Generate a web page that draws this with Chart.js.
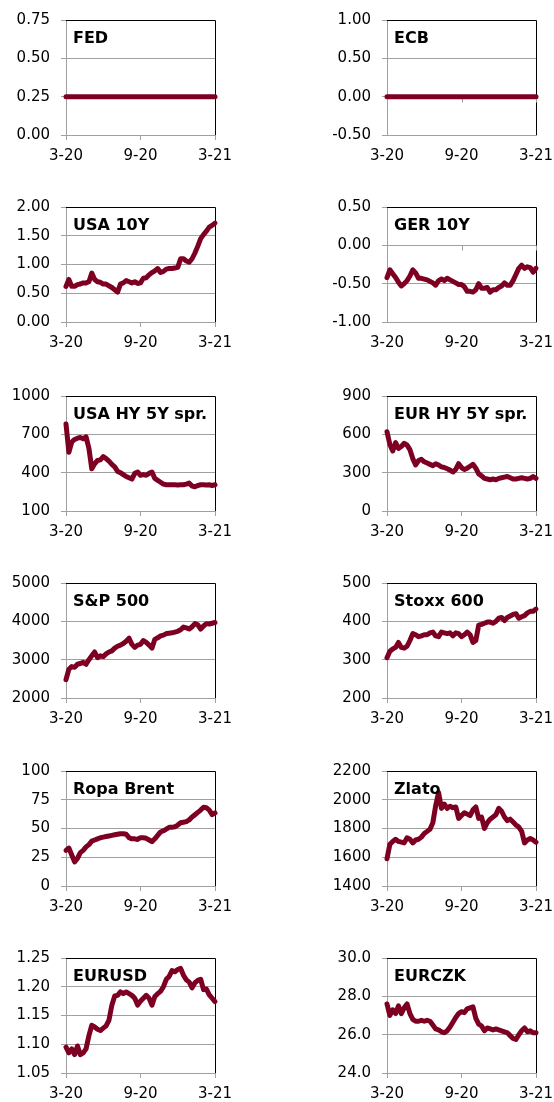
<!DOCTYPE html>
<html>
<head>
<meta charset="utf-8">
<script src="https://cdn.jsdelivr.net/npm/chart.js@4.4.0/dist/chart.umd.min.js"></script>
<style>
body { margin: 0; background: #fff; width: 554px; height: 1102px; overflow: hidden; position: relative; }
canvas { position: absolute; }
</style>
</head>
<body>
<script>
// x axis: weeks from 3-20 to 3-21
const tickWeeks = [0, 26, 52];
const tickLabels = ['3-20', '9-20', '3-21'];

const fed = [0.25, 0.25];
const ecb = [0.00, 0.00];
const usa10y = [0.62, 0.74, 0.62, 0.62, 0.65, 0.66, 0.68, 0.68, 0.70, 0.85, 0.74, 0.70, 0.69, 0.66, 0.66, 0.63, 0.60, 0.56, 0.52, 0.66,
    0.68, 0.72, 0.70, 0.68, 0.70, 0.67, 0.68, 0.76, 0.77, 0.82, 0.86, 0.89, 0.93, 0.86, 0.88, 0.92, 0.93, 0.93, 0.94, 0.95,
    1.10, 1.10, 1.06, 1.04, 1.10, 1.20, 1.32, 1.45, 1.52, 1.58, 1.65, 1.68, 1.72];
const ger10y = [-0.42, -0.32, -0.37, -0.42, -0.48, -0.53, -0.50, -0.46, -0.40, -0.32, -0.36, -0.43, -0.43, -0.44, -0.45, -0.47, -0.49, -0.52, -0.46, -0.44,
    -0.46, -0.43, -0.45, -0.47, -0.49, -0.51, -0.51, -0.54, -0.60, -0.60, -0.61, -0.58, -0.50, -0.56, -0.56, -0.55, -0.61, -0.58, -0.58, -0.55,
    -0.53, -0.49, -0.52, -0.52, -0.46, -0.38, -0.30, -0.26, -0.30, -0.28, -0.29, -0.35, -0.30];
const usaHy = [780, 560, 640, 660, 670, 675, 665, 680, 590, 430, 470, 495, 500, 525, 510, 490, 465, 445, 410, 400,
    385, 370, 360, 350, 395, 405, 380, 385, 380, 395, 405, 355, 340, 325, 310, 305, 305, 305, 305, 303,
    305, 305, 310, 318, 295, 290, 300, 305, 305, 303, 305, 300, 305];
const eurHy = [620, 520, 470, 535, 490, 505, 530, 515, 480, 410, 360, 395, 405, 385, 375, 365, 355, 370, 360, 345,
    340, 330, 320, 305, 325, 370, 340, 325, 335, 350, 365, 335, 290, 275, 255, 250, 245, 250, 245, 255,
    260, 265, 270, 260, 250, 250, 255, 260, 255, 250, 255, 270, 255];
const sp500 = [2480, 2750, 2820, 2800, 2880, 2900, 2930, 2880, 3000, 3100, 3200, 3050, 3100, 3080, 3150, 3200, 3230, 3300, 3350, 3380,
    3420, 3480, 3560, 3400, 3320, 3380, 3400, 3500, 3450, 3380, 3300, 3530, 3570, 3620, 3640, 3680, 3690, 3700, 3720, 3740,
    3780, 3850, 3830, 3800, 3860, 3940, 3910, 3800, 3880, 3940, 3930, 3950, 3970];
const stoxx600 = [305, 322, 328, 332, 345, 332, 330, 335, 350, 368, 365, 360, 362, 365, 365, 370, 372, 362, 360, 372,
    370, 368, 370, 362, 370, 368, 360, 365, 372, 365, 345, 350, 390, 392, 395, 398, 398, 395, 400, 408,
    410, 402, 410, 414, 418, 420, 408, 412, 415, 422, 426, 426, 432];
const brent = [31, 33, 27, 21, 24, 29, 31, 34, 36, 39, 40, 41, 42, 42.5, 43, 43.5, 44, 44.5, 45, 45.5,
    45.5, 45, 42, 41, 41, 40.5, 42, 42, 41.5, 40, 38.5, 41, 44, 47, 48, 49.5, 51, 51, 51.5, 53,
    55, 55.5, 56, 57.5, 60, 62, 64, 66, 68.5, 68, 66, 62, 63.5];
const gold = [1590, 1690, 1710, 1725, 1710, 1705, 1700, 1735, 1725, 1700, 1720, 1725, 1740, 1765, 1780, 1795, 1840, 1960, 2050, 1940,
    1970, 1940, 1955, 1945, 1950, 1870, 1890, 1910, 1900, 1890, 1930, 1950, 1870, 1880, 1800, 1840, 1865, 1880, 1895, 1940,
    1920, 1880, 1855, 1865, 1845, 1825, 1810, 1780, 1700, 1720, 1730, 1720, 1705];
const eurusd = [1.095, 1.085, 1.092, 1.082, 1.097, 1.082, 1.085, 1.092, 1.115, 1.133, 1.130, 1.126, 1.124, 1.128, 1.132, 1.142, 1.168, 1.184, 1.185, 1.191,
    1.188, 1.191, 1.188, 1.185, 1.180, 1.168, 1.175, 1.180, 1.185, 1.180, 1.168, 1.183, 1.188, 1.192, 1.200, 1.213, 1.218, 1.228, 1.226, 1.230,
    1.232, 1.220, 1.212, 1.208, 1.198, 1.207, 1.211, 1.213, 1.195, 1.196, 1.186, 1.180, 1.174];
const eurczk = [27.6, 27.0, 27.3, 27.1, 27.5, 27.1, 27.4, 27.6, 27.1, 26.8, 26.7, 26.7, 26.75, 26.7, 26.75, 26.7, 26.5, 26.3, 26.25, 26.15,
    26.1, 26.2, 26.4, 26.65, 26.9, 27.1, 27.2, 27.15, 27.35, 27.4, 27.45, 26.85, 26.55, 26.45, 26.2, 26.35, 26.3, 26.25, 26.3, 26.25,
    26.2, 26.15, 26.1, 25.95, 25.8, 25.75, 26.0, 26.2, 26.35, 26.15, 26.2, 26.1, 26.1];

const panels = [
    { title: 'FED', values: fed, min: 0, max: 0.75, step: 0.25, dec: 2 },
    { title: 'ECB', values: ecb, min: -0.5, max: 1, step: 0.5, dec: 2, zero: true },
    { title: 'USA 10Y', values: usa10y, min: 0, max: 2, step: 0.5, dec: 2 },
    { title: 'GER 10Y', values: ger10y, min: -1, max: 0.5, step: 0.5, dec: 2, zero: true },
    { title: 'USA HY 5Y spr.', values: usaHy, min: 100, max: 1000, step: 300, dec: 0 },
    { title: 'EUR HY 5Y spr.', values: eurHy, min: 0, max: 900, step: 300, dec: 0 },
    { title: 'S&P 500', values: sp500, min: 2000, max: 5000, step: 1000, dec: 0 },
    { title: 'Stoxx 600', values: stoxx600, min: 200, max: 500, step: 100, dec: 0 },
    { title: 'Ropa Brent', values: brent, min: 0, max: 100, step: 25, dec: 0 },
    { title: 'Zlato', values: gold, min: 1400, max: 2200, step: 200, dec: 0 },
    { title: 'EURUSD', values: eurusd, min: 1.05, max: 1.25, step: 0.05, dec: 2 },
    { title: 'EURCZK', values: eurczk, min: 24, max: 30, step: 2, dec: 1 }
];

const plotTops = [20, 207, 396, 583, 771, 958];
const lineColor = '#7d0022';
const gridColor = '#a0a0a0';

Chart.defaults.font.family = '"DejaVu Sans", sans-serif';
Chart.defaults.font.size = 15;
Chart.defaults.color = '#000';

const panelPlugin = {
    id: 'panel',
    beforeDatasetsDraw(chart, args, opts) {
        const ctx = chart.ctx;
        const a = chart.chartArea;
        ctx.save();
        // black frame on top and right
        ctx.strokeStyle = '#000';
        ctx.lineWidth = 1;
        ctx.beginPath();
        ctx.moveTo(a.left, Math.round(a.top) + 0.5);
        ctx.lineTo(Math.round(a.right) + 0.5, Math.round(a.top) + 0.5);
        ctx.lineTo(Math.round(a.right) + 0.5, a.bottom);
        ctx.stroke();
        // x axis crosses at zero
        if (opts.zero) {
            const y0 = Math.round(chart.scales.y.getPixelForValue(0)) + 0.5;
            ctx.strokeStyle = gridColor;
            tickWeeks.forEach(function (w) {
                const x = Math.round(chart.scales.x.getPixelForValue(w)) + 0.5;
                ctx.beginPath();
                ctx.moveTo(x, y0);
                ctx.lineTo(x, y0 + 5);
                ctx.stroke();
            });
        }
        ctx.restore();
    },
    afterDraw(chart, args, opts) {
        const ctx = chart.ctx;
        const a = chart.chartArea;
        ctx.save();
        ctx.font = 'bold 16px "DejaVu Sans", sans-serif';
        ctx.fillStyle = '#000';
        ctx.textBaseline = 'alphabetic';
        ctx.fillText(opts.title, a.left + 7, a.top + 22.5);
        ctx.restore();
    }
};

panels.forEach(function (p, i) {
    const row = Math.floor(i / 2);
    const col = i % 2;
    const canvas = document.createElement('canvas');
    canvas.width = 277;
    canvas.height = 160;
    canvas.style.left = (col * 277) + 'px';
    canvas.style.top = (plotTops[row] - 10) + 'px';
    document.body.appendChild(canvas);

    const axisWidth = col ? 110 : 66;
    const n = p.values.length;

    new Chart(canvas.getContext('2d'), {
        type: 'line',
        data: {
            datasets: [{
                data: p.values.map((v, k) => ({ x: k * 52 / (n - 1), y: v })),
                borderColor: lineColor,
                borderWidth: 5,
                pointRadius: 0,
                tension: 0,
                clip: false,
                borderJoinStyle: 'round',
                borderCapStyle: 'round'
            }]
        },
        options: {
            responsive: false,
            animation: false,
            layout: { padding: { left: 0, top: 10, right: col ? 18 : 62, bottom: 0 } },
            plugins: {
                legend: { display: false },
                tooltip: { enabled: false },
                panel: { title: p.title, zero: !!p.zero }
            },
            scales: {
                x: {
                    type: 'linear',
                    min: 0,
                    max: 52,
                    afterBuildTicks: function (s) { s.ticks = tickWeeks.map(v => ({ value: v })); },
                    afterFit: function (s) { s.height = 35; s.paddingLeft = 0; s.paddingRight = 0; },
                    grid: { drawOnChartArea: false, tickLength: 5, color: gridColor, tickColor: p.zero ? 'rgba(0,0,0,0)' : gridColor },
                    border: { color: gridColor },
                    ticks: {
                        padding: 7,
                        maxRotation: 0,
                        autoSkip: false,
                        callback: function (v) { return tickLabels[tickWeeks.indexOf(v)]; }
                    }
                },
                y: {
                    min: p.min,
                    max: p.max,
                    afterFit: function (s) { s.width = axisWidth; s.paddingTop = 0; s.paddingBottom = 0; },
                    grid: { tickLength: 5, color: gridColor },
                    border: { color: gridColor },
                    ticks: {
                        stepSize: p.step,
                        padding: 11,
                        callback: function (v) { return Number(v).toFixed(p.dec); }
                    }
                }
            }
        },
        plugins: [panelPlugin]
    });
});
</script>
</body>
</html>
